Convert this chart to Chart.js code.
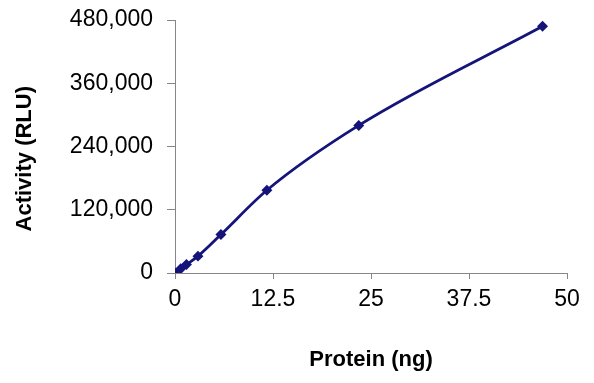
<!DOCTYPE html>
<html>
<head>
<meta charset="utf-8">
<script src="https://cdn.jsdelivr.net/npm/chart.js@4"></script>
<style>
  body { margin: 0; background: #fff; }
</style>
</head>
<body>
<canvas id="activityChart" width="594" height="383"></canvas>
<script>
// значения с графика
const protein = [0, 0.73, 1.46, 2.93, 5.86, 11.72, 23.44, 46.88];
const activity = [0, 8000, 16000, 32000, 73000, 157000, 280000, 468000];
const xTicks = [0, 12.5, 25, 37.5, 50];
const yTicks = [0, 120000, 240000, 360000, 480000];

const axisColor = '#868686';
const lineColor = '#14147a';

const points = protein.map((x, i) => ({ x: x, y: activity[i] }));

const ctx = document.getElementById('activityChart').getContext('2d');
new Chart(ctx, {
    type: 'line',
    data: {
        datasets: [{
            data: points,
            borderColor: lineColor,
            backgroundColor: lineColor,
            borderWidth: 2.8,
            cubicInterpolationMode: 'monotone',
            pointStyle: 'rectRot',
            pointRadius: 3.5,
            pointHoverRadius: 3.5,
            fill: false
        }]
    },
    options: {
        responsive: false,
        devicePixelRatio: 1,
        animation: false,
        layout: { padding: { left: 0, right: 27, top: 20, bottom: 0 } },
        plugins: {
            legend: { display: false },
            tooltip: { enabled: false }
        },
        scales: {
            x: {
                type: 'linear',
                min: 0,
                max: 50,
                afterBuildTicks: scale => { scale.ticks = xTicks.map(v => ({ value: v })); },
                afterFit: scale => { scale.height = 110; },
                ticks: {
                    color: '#000',
                    padding: 7,
                    maxRotation: 0,
                    font: { family: 'Liberation Sans', size: 23 },
                    callback: v => String(v)
                },
                grid: { drawOnChartArea: false, drawTicks: true, tickLength: 6, color: axisColor },
                border: { display: true, color: axisColor, width: 1 },
                title: {
                    display: true,
                    text: 'Protein (ng)',
                    color: '#000',
                    padding: { top: 0, bottom: 10 },
                    font: { family: 'Liberation Sans', size: 22, weight: 'bold' }
                }
            },
            y: {
                min: 0,
                max: 480000,
                afterBuildTicks: scale => { scale.ticks = yTicks.map(v => ({ value: v })); },
                afterFit: scale => {
                    scale.width = 175;
                    scale.paddingTop = 0;
                    scale.paddingBottom = 0;
                },
                ticks: {
                    color: '#000',
                    padding: 14,
                    font: { family: 'Liberation Sans', size: 23 },
                    callback: v => v.toLocaleString('en-US')
                },
                grid: { drawOnChartArea: false, drawTicks: true, tickLength: 8, color: axisColor },
                border: { display: true, color: axisColor, width: 1 },
                title: {
                    display: true,
                    // пробелы в конце сдвигают подпись вниз, как в оригинале
                    text: 'Activity (RLU)    ',
                    color: '#000',
                    padding: { top: 12, bottom: 0 },
                    font: { family: 'Liberation Sans', size: 22, weight: 'bold' }
                }
            }
        }
    }
});
</script>
</body>
</html>
